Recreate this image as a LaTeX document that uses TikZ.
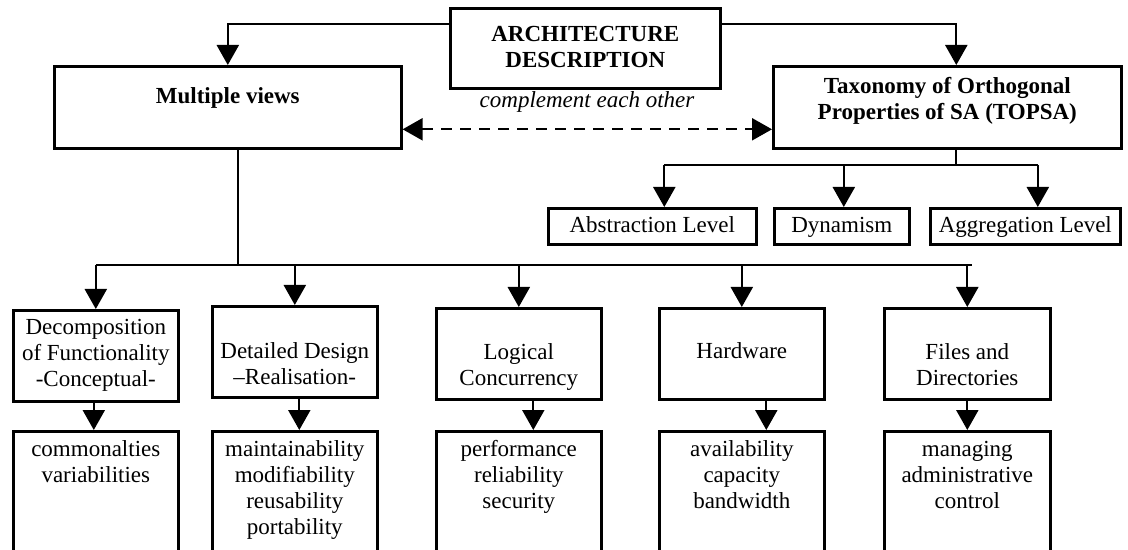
\documentclass[tikz,border=0pt]{standalone}
\usepackage{fontspec}
\setmainfont{Liberation Serif}
\usepackage{tikz}
\usetikzlibrary{arrows.meta}
\newlength{\pxu}
\setlength{\pxu}{0.5pt}
\newcommand{\cell}[4]{\parbox[c][#2\pxu][t]{#1\pxu}{\centering\vspace*{\dimexpr#3\pxu-\ht\strutbox\relax}\strut#4}}

\begin{document}
\begin{tikzpicture}[x=0.5pt, y=-0.5pt,
  box/.style={draw, line width=1.3pt, inner sep=0pt, anchor=north west, font=\fontsize{11.5}{13}\selectfont},
  head/.style={box, font=\fontsize{11.5}{13}\selectfont\bfseries},
  wire/.style={line width=1.1pt},
  link/.style={wire, -{Triangle[width=11pt,length=10pt]}},
  twoway/.style={wire, dash pattern=on 5.5pt off 4pt, {Triangle[width=11pt,length=10pt]}-{Triangle[width=11pt,length=10pt]}}]
\useasboundingbox (0,0) rectangle (1128,550);
\node[head] (arch) at (449,7) {\cell{270}{80}{33}{ARCHITECTURE\\DESCRIPTION}};
\node[head] (mv) at (53,65) {\cell{347}{82}{37}{Multiple views}};
\node[head] (topsa) at (772,65) {\cell{348}{82}{27}{Taxonomy of Orthogonal\\Properties of SA (TOPSA)}};
\node[font=\fontsize{11.5}{13}\selectfont\itshape, anchor=base] (cmp) at (587,108) {complement each other};
\node[box] (abs) at (547,207) {\cell{208}{36}{24}{Abstraction Level}};
\node[box] (dyn) at (773,207) {\cell{135}{36}{24}{Dynamism}};
\node[box] (agg) at (929,207) {\cell{190}{36}{24}{Aggregation Level}};
\node[box] (d1) at (12,309) {\cell{165}{91}{24}{Decomposition\\of Functionality\\-Conceptual-}};
\node[box] (d2) at (211,305) {\cell{165}{91}{52}{Detailed Design\\–Realisation-}};
\node[box] (d3) at (435,307) {\cell{165}{91}{51}{Logical\\Concurrency}};
\node[box] (d4) at (658,307) {\cell{165}{91}{50}{Hardware}};
\node[box] (d5) at (883,307) {\cell{166}{91}{51}{Files and\\Directories}};
\node[box] (p1) at (12,430) {\cell{165}{130}{25}{commonalties\\variabilities}};
\node[box] (p2) at (211,430) {\cell{165}{130}{25}{maintainability\\modifiability\\reusability\\portability}};
\node[box] (p3) at (435,430) {\cell{165}{130}{25}{performance\\reliability\\security}};
\node[box] (p4) at (658,430) {\cell{165}{130}{25}{availability\\capacity\\bandwidth}};
\node[box] (p5) at (883,430) {\cell{166}{130}{25}{managing\\administrative\\control}};
\coordinate (bus) at (238,265);
\coordinate (tbus) at (956,165);
\draw[link] ([yshift=12pt]arch.west) -| (mv.north);
\draw[link] ([yshift=12pt]arch.east) -| ([xshift=4.5pt]topsa.north);
\draw[twoway] ([yshift=-11pt]mv.east) -- ([yshift=-11pt]topsa.west);
\draw[wire] (mv.south -| bus) -- (bus);
\draw[wire] (d1.north |- bus) -- ([xshift=2.5pt]d5.north |- bus);
\foreach \n in {d1,d2,d3,d4,d5}
  \draw[link] (\n.north |- bus) -- (\n.north);
\foreach \n/\m/\s in {d1/p1/-1pt, d2/p2/2.25pt, d3/p3/7.25pt, d4/p4/12.25pt, d5/p5/0pt}
  \draw[link] ([xshift=\s]\n.south) -- ([xshift=\s]\n.south |- \m.north);
\draw[wire] (topsa.south -| tbus) -- (tbus);
\draw[wire] ([xshift=6pt]abs.north |- tbus) -- ([xshift=6.25pt]agg.north |- tbus);
\foreach \n/\s in {abs/6pt, dyn/1pt, agg/6.25pt}
  \draw[link] ([xshift=\s]\n.north |- tbus) -- ([xshift=\s]\n.north);
\end{tikzpicture}
\end{document}
